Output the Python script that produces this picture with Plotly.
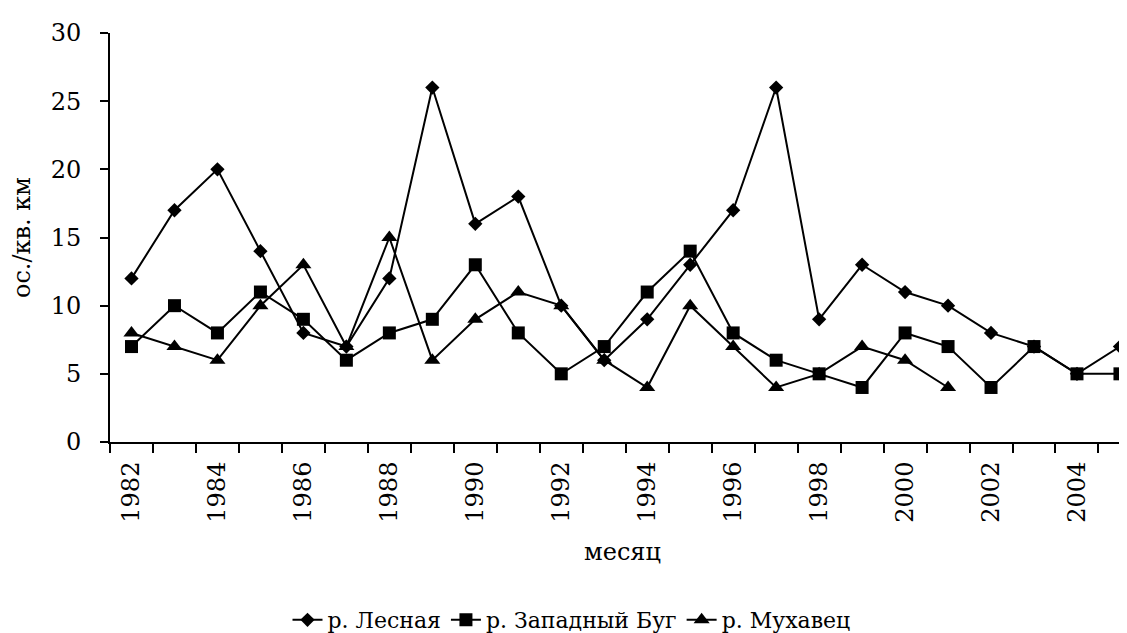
import plotly.graph_objects as go

years = list(range(1982, 2006))
lesnaya = [12, 17, 20, 14, 8, 7, 12, 26, 16, 18, 10, 6, 9, 13, 17, 26, 9, 13, 11, 10, 8, 7, 5, 7]
zap_bug = [7, 10, 8, 11, 9, 6, 8, 9, 13, 8, 5, 7, 11, 14, 8, 6, 5, 4, 8, 7, 4, 7, 5, 5]
mukhavets = [8, 7, 6, 10, 13, 7, 15, 6, 9, 11, 10, 6, 4, 10, 7, 4, 5, 7, 6, 4]
tick_years = list(range(1982, 2005, 2))
tick_text = [str(y) for y in tick_years]
series_names = ["р. Лесная", "р. Западный Буг", "р. Мухавец"]

FONT = "DejaVu Serif"

fig = go.Figure()
fig.add_trace(go.Scatter(x=years, y=lesnaya, name=series_names[0], mode="lines+markers",
                         line=dict(color="black", width=2),
                         marker=dict(symbol="diamond", size=11, color="black")))
fig.add_trace(go.Scatter(x=years, y=zap_bug, name=series_names[1], mode="lines+markers",
                         line=dict(color="black", width=2),
                         marker=dict(symbol="square", size=13, color="black")))
fig.add_trace(go.Scatter(x=years[:len(mukhavets)], y=mukhavets, name=series_names[2], mode="lines+markers",
                         line=dict(color="black", width=2),
                         marker=dict(symbol="triangle-up", size=14, color="black")))

fig.update_layout(
    width=1127, height=633,
    margin=dict(l=102, r=0, t=25, b=199),
    paper_bgcolor="white", plot_bgcolor="white",
    font=dict(family=FONT, size=24, color="black"),
    showlegend=True,
    legend=dict(orientation="h", xref="container", x=0.5, xanchor="center",
                yref="container", y=0.0, yanchor="bottom",
                font=dict(family=FONT, size=22), itemwidth=30,
                tracegroupgap=0),
    xaxis=dict(
        range=[1981.5, 2005.35],
        tickmode="array", tickvals=tick_years, ticktext=tick_text,
        tickangle=-90, ticks="", ticklabelstandoff=8,
        tickfont=dict(family=FONT, size=24),
        showline=True, linecolor="black", linewidth=2,
        showgrid=False, zeroline=False,
        minor=dict(tick0=1981.5, dtick=1, ticks="outside", ticklen=9,
                   tickcolor="black", tickwidth=2, showgrid=False),
        title=dict(text="месяц", standoff=22, font=dict(family=FONT, size=24)),
    ),
    yaxis=dict(
        range=[0, 30], tick0=0, dtick=5,
        ticks="outside", ticklen=8, tickwidth=2, tickcolor="black",
        ticklabelstandoff=14,
        tickfont=dict(family=FONT, size=24),
        showline=True, linecolor="black", linewidth=2,
        showgrid=False, zeroline=False,
        title=dict(text="ос./кв. км", standoff=26, font=dict(family=FONT, size=24)),
    ),
)

fig.write_html("out.html")
